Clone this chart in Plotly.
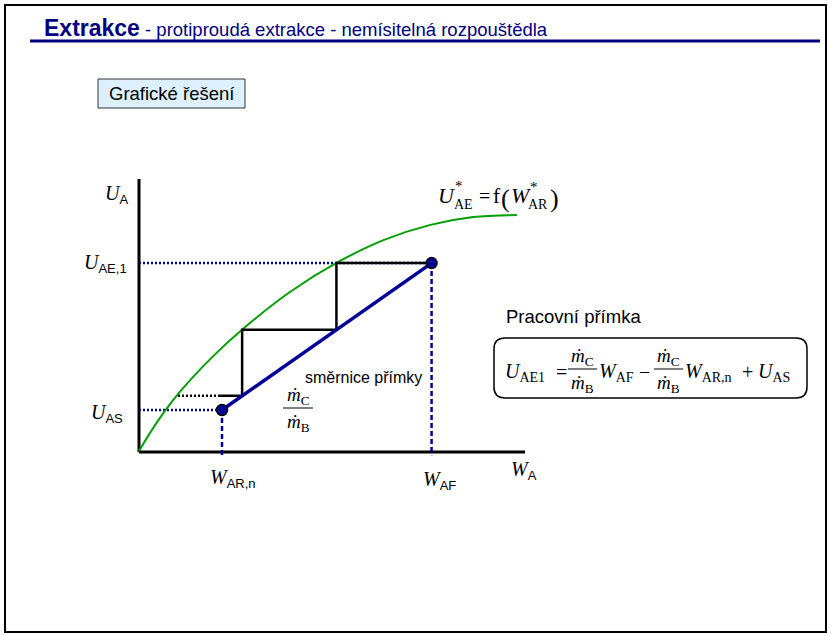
import numpy as np
import plotly.graph_objects as go

# ---- figure geometry (pixels) ----
W, H = 832, 635
X0_PX, X1_PX = 139, 525      # x axis: W_A = 0 .. 1
Y0_PX, Y1_PX = 452, 179      # y axis: U_A = 0 .. 1
XR = (-0.05, 1.05)
YR = (-0.05, 1.05)

# ---- diagram values (dimensionless, axis length = 1) ----
# equilibrium curve U*_AE = f(W*_AR)
eq_w = [0.000, 0.049, 0.101, 0.187, 0.272, 0.391, 0.516, 0.635, 0.755, 0.866, 0.979]
eq_u = [0.004, 0.114, 0.212, 0.344, 0.454, 0.586, 0.696, 0.777, 0.832, 0.861, 0.868]

# end points of the operating line
w_arn, u_as = 0.215, 0.154     # (W_AR,n ; U_AS)
w_af, u_ae1 = 0.758, 0.692     # (W_AF ; U_AE,1)


def fx(p):  # pixel -> paper
    return p / W


def fy(p):
    return 1 - p / H


# ---- stage construction between operating line and equilibrium curve ----
slope = (u_ae1 - u_as) / (w_af - w_arn)


def op_line(w):
    return u_as + slope * (w - w_arn)


stairs_w, stairs_u = [w_af], [u_ae1]
u = u_ae1
while True:
    w_eq = float(np.interp(u, eq_u, eq_w))
    if op_line(w_eq) < u_as:
        break
    stairs_w.append(w_eq); stairs_u.append(u)
    u = op_line(w_eq)
    stairs_w.append(w_eq); stairs_u.append(u)
last_w_eq = float(np.interp(u, eq_u, eq_w))

fig = go.Figure()

NAVY = "#000099"
GREEN = "#00a000"

# axes
fig.add_trace(go.Scatter(x=[0, 1], y=[0, 0], mode="lines", line=dict(color="black", width=3)))
fig.add_trace(go.Scatter(x=[0, 0], y=[0, 1], mode="lines", line=dict(color="black", width=3)))

# helper lines to the axes
fig.add_trace(go.Scatter(x=[0, w_af], y=[u_ae1, u_ae1], mode="lines",
                         line=dict(color=NAVY, width=2.5, dash="2px,2px")))
fig.add_trace(go.Scatter(x=[0, w_arn], y=[u_as, u_as], mode="lines",
                         line=dict(color=NAVY, width=2.5, dash="2px,2px")))
fig.add_trace(go.Scatter(x=[w_af, w_af], y=[u_ae1, -0.012], mode="lines",
                         line=dict(color=NAVY, width=2.5, dash="5px,3px")))
fig.add_trace(go.Scatter(x=[w_arn, w_arn], y=[u_as, -0.012], mode="lines",
                         line=dict(color=NAVY, width=2.5, dash="5px,3px")))

# equilibrium curve
fig.add_trace(go.Scatter(x=eq_w, y=eq_u, mode="lines",
                         line=dict(color=GREEN, width=2, shape="spline", smoothing=1.0)))

# stages
fig.add_trace(go.Scatter(x=stairs_w + [w_arn - 0.005], y=stairs_u + [u, u], mode="lines",
                         line=dict(color="black", width=2.5)))
fig.add_trace(go.Scatter(x=[w_arn - 0.005, last_w_eq], y=[u, u], mode="lines",
                         line=dict(color="black", width=2.5, dash="2px,2px")))

# operating line with end points
fig.add_trace(go.Scatter(x=[w_arn, w_af], y=[u_as, u_ae1], mode="lines+markers",
                         line=dict(color=NAVY, width=3.5),
                         marker=dict(size=11, color=NAVY, line=dict(color="black", width=1.5))))

fig.update_traces(hoverinfo="skip", showlegend=False)

xd = (fx(X0_PX + XR[0] * (X1_PX - X0_PX)), fx(X0_PX + XR[1] * (X1_PX - X0_PX)))
yd = (fy(Y0_PX - YR[0] * (Y0_PX - Y1_PX)), fy(Y0_PX - YR[1] * (Y0_PX - Y1_PX)))

fig.update_layout(
    width=W, height=H, autosize=False,
    margin=dict(l=0, r=0, t=0, b=0),
    paper_bgcolor="white", plot_bgcolor="rgba(0,0,0,0)",
    xaxis=dict(range=list(XR), domain=list(xd), visible=False, fixedrange=True),
    yaxis=dict(range=list(YR), domain=list(yd), visible=False, fixedrange=True),
)

ann = []
SERIF = "Liberation Serif"
SANS = "Arial, Liberation Sans"


def text(xp, yp, t, size, family=SERIF, xanchor="left", color="black"):
    ann.append(dict(x=fx(xp), y=fy(yp), xref="paper", yref="paper", text=t, showarrow=False,
                    xanchor=xanchor, yanchor="middle", font=dict(size=size, family=family, color=color)))


def sublabel(main, sub):
    return f"<i>{main}</i><sub><span style='font-family:Arial;font-size:13px'>{sub}</span></sub>"


def symb(main, sub):
    return f"<i>{main}</i><sub>{sub}</sub>"


# title
text(42, 28, "<b><span style='font-size:23px'>Extrakce</span></b> - protiproudá extrakce - nemísitelná rozpouštědla",
     18.5, SANS, color="#000080")
# header box text
text(171.5, 93.5, "Grafické řešení", 18.5, SANS, xanchor="center")

# axis labels
text(103, 194, sublabel("U", "A"), 20)
text(129, 263, sublabel("U", "AE,1"), 20, xanchor="right")
text(125, 413, sublabel("U", "AS"), 20, xanchor="right")
text(208, 478, sublabel("W", "AR,n"), 20)
text(421, 480, sublabel("W", "AF"), 20)
text(509, 471, sublabel("W", "A"), 20)

# slope note
text(303, 377, "směrnice přímky", 16, SANS)
text(298, 396, symb("ṁ", "C"), 19, xanchor="center")
text(298, 423, symb("ṁ", "B"), 19, xanchor="center")

# equilibrium curve label
text(436, 196, "<i>U</i>", 22)
text(453, 186, "*", 15)
text(452, 204, "AE", 14)
text(484, 196, "=", 20, xanchor="center")
text(491, 196, "f", 21)
text(505, 198, "(", 26, xanchor="center")
text(509, 196, "<i>W</i>", 22)
text(528, 187, "*", 15)
text(526, 204, "AR", 14)
text(554, 198, ")", 26, xanchor="center")

# operating line equation
text(504, 316, "Pracovní přímka", 18.5, SANS)
text(503, 372, symb("U", "AE1"), 20)
text(561, 372, "=", 20, xanchor="center")
text(582, 357, symb("ṁ", "C"), 19, xanchor="center")
text(582, 384, symb("ṁ", "B"), 19, xanchor="center")
text(597, 372, symb("W", "AF"), 20)
text(644, 372, "−", 20, xanchor="center")
text(668, 357, symb("ṁ", "C"), 19, xanchor="center")
text(668, 384, symb("ṁ", "B"), 19, xanchor="center")
text(683, 372, symb("W", "AR,n"), 20)
text(747, 372, "+", 20, xanchor="center")
text(756, 372, symb("U", "AS"), 20)

fig.update_layout(annotations=ann)


def rounded_rect(x0, y0, x1, y1, r):
    p = lambda x, y: f"{fx(x):.5f},{fy(y):.5f}"
    return (f"M {p(x0 + r, y0)} L {p(x1 - r, y0)} Q {p(x1, y0)} {p(x1, y0 + r)} "
            f"L {p(x1, y1 - r)} Q {p(x1, y1)} {p(x1 - r, y1)} "
            f"L {p(x0 + r, y1)} Q {p(x0, y1)} {p(x0, y1 - r)} "
            f"L {p(x0, y0 + r)} Q {p(x0, y0)} {p(x0 + r, y0)} Z")


shapes = [
    # page frame
    dict(type="rect", xref="paper", yref="paper", x0=fx(5), x1=fx(826), y0=fy(632), y1=fy(5),
         line=dict(color="black", width=2)),
    # title rule
    dict(type="line", xref="paper", yref="paper", x0=fx(30), x1=fx(820), y0=fy(41), y1=fy(41),
         line=dict(color="#000080", width=3)),
    # header box
    dict(type="rect", xref="paper", yref="paper", x0=fx(98), x1=fx(245), y0=fy(108), y1=fy(79),
         fillcolor="#ddf0ff", line=dict(color="#333333", width=1), layer="below"),
    # equation frame
    dict(type="path", xref="paper", yref="paper", path=rounded_rect(494, 338, 807, 398, 11),
         line=dict(color="black", width=1.5)),
    # fraction bars
    dict(type="line", xref="paper", yref="paper", x0=fx(568), x1=fx(597), y0=fy(369), y1=fy(369),
         line=dict(color="black", width=1)),
    dict(type="line", xref="paper", yref="paper", x0=fx(654), x1=fx(683), y0=fy(369), y1=fy(369),
         line=dict(color="black", width=1)),
    dict(type="line", xref="paper", yref="paper", x0=fx(283), x1=fx(313), y0=fy(408), y1=fy(408),
         line=dict(color="black", width=1)),
]
fig.update_layout(shapes=shapes)

fig.write_html("out.html")
